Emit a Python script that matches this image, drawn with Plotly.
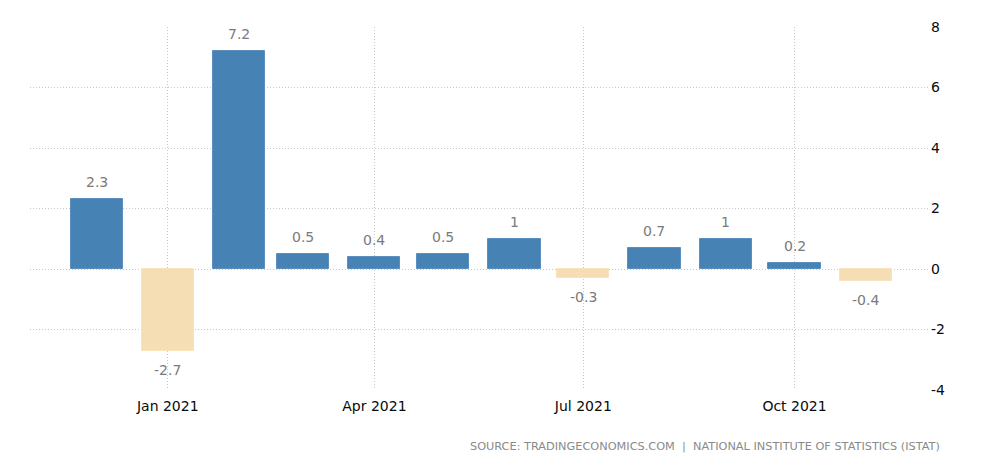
import plotly.graph_objects as go

# monthly change, Dec 2020 - Nov 2021
months = ["2020-12-01", "2021-01-01", "2021-02-01", "2021-03-01", "2021-04-01", "2021-05-01",
          "2021-06-01", "2021-07-01", "2021-08-01", "2021-09-01", "2021-10-01", "2021-11-01"]
values = [2.3, -2.7, 7.2, 0.5, 0.4, 0.5, 1, -0.3, 0.7, 1, 0.2, -0.4]
labels = ["2.3", "-2.7", "7.2", "0.5", "0.4", "0.5", "1", "-0.3", "0.7", "1", "0.2", "-0.4"]

tick_dates = ["2021-01-01", "2021-04-01", "2021-07-01", "2021-10-01"]
tick_text = ["Jan 2021", "Apr 2021", "Jul 2021", "Oct 2021"]
y_ticks = [-4, -2, 0, 2, 4, 6, 8]
y_text = ["-4", "-2", "0", "2", "4", "6", "8"]

colors = ["#4682B4" if v >= 0 else "#F5DEB3" for v in values]
line_colors = ["#5a8fc0" if v >= 0 else "#F7E3BE" for v in values]

day_ms = 86400000

fig = go.Figure()
fig.add_trace(go.Bar(
    x=months, y=values,
    width=[22.7 * day_ms] * len(values),
    marker=dict(color=colors, line=dict(color=line_colors, width=1)),
    hoverinfo="x+y",
))

# value labels above / below each bar
for m, v, t in zip(months, values, labels):
    fig.add_annotation(
        x=m, y=v, text=t, showarrow=False, yanchor="middle",
        yshift=17 if v >= 0 else -19,
        font=dict(color="#7a7a7a", size=14, family="DejaVu Sans"),
    )

# page body keeps an 8px default margin, so the figure is a bit smaller
fig.update_layout(
    width=996, height=460,
    margin=dict(l=22, r=74, t=19, b=78),
    paper_bgcolor="white", plot_bgcolor="white",
    showlegend=False,
    font=dict(family="DejaVu Sans", size=14, color="#111111"),
    bargap=0,
)
fig.update_xaxes(
    type="date", range=["2020-11-02", "2021-11-29"],
    tickvals=tick_dates, ticktext=tick_text,
    showgrid=True, gridcolor="#c8c8c8", griddash="1px,2px", gridwidth=1,
    showline=False, zeroline=False, ticks="", automargin=False,
    ticklabelstandoff=6,
    tickfont=dict(size=14, color="#0a0a0a"),
)
fig.update_yaxes(
    side="right", range=[-4, 8], tickvals=y_ticks, ticktext=y_text,
    showgrid=True, gridcolor="#c8c8c8", griddash="1px,2px", gridwidth=1,
    zeroline=False, showline=False, ticks="", automargin=False,
    tickfont=dict(size=14, color="#0a0a0a"),
)

fig.add_annotation(
    text="SOURCE: TRADINGECONOMICS.COM  |  NATIONAL INSTITUTE OF STATISTICS (ISTAT)",
    xref="paper", yref="paper", x=1.0133, y=-0.157, xanchor="right", yanchor="middle",
    showarrow=False, font=dict(size=11.3, color="#8a8a8a", family="DejaVu Sans"),
)

fig.write_html("out.html")
